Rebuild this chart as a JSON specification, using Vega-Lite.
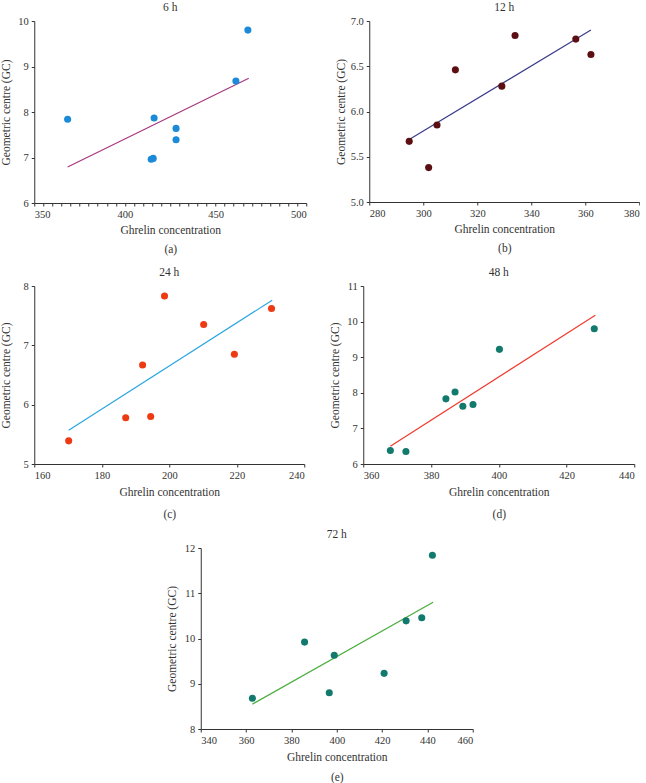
{
  "$schema": "https://vega.github.io/schema/vega-lite/v6.json",
  "padding": {"left": 0, "top": 1, "right": 0, "bottom": 0},
  "background": "white",
  "center": true,
  "spacing": 8,
  "datasets": {
    "a_pts": [{"x": 368.4, "y": 7.84}, {"x": 416.1, "y": 7.87}, {"x": 414.5, "y": 6.96}, {"x": 415.6, "y": 6.98}, {"x": 428.2, "y": 7.64}, {"x": 428.2, "y": 7.39}, {"x": 461.2, "y": 8.68}, {"x": 467.8, "y": 9.8}],
    "a_fit": [{"x": 368.4, "y": 6.79}, {"x": 468.3, "y": 8.74}],
    "b_pts": [{"x": 294.8, "y": 5.67}, {"x": 302.0, "y": 5.38}, {"x": 305.1, "y": 5.85}, {"x": 311.9, "y": 6.46}, {"x": 329.1, "y": 6.28}, {"x": 334.0, "y": 6.84}, {"x": 356.5, "y": 6.8}, {"x": 362.1, "y": 6.63}],
    "b_fit": [{"x": 294.8, "y": 5.69}, {"x": 362.1, "y": 6.9}],
    "c_pts": [{"x": 170.2, "y": 5.39}, {"x": 187.1, "y": 5.78}, {"x": 192.1, "y": 6.67}, {"x": 194.5, "y": 5.8}, {"x": 198.6, "y": 7.83}, {"x": 210.2, "y": 7.35}, {"x": 219.3, "y": 6.85}, {"x": 230.3, "y": 7.62}],
    "c_fit": [{"x": 170.2, "y": 5.57}, {"x": 230.5, "y": 7.76}],
    "d_pts": [{"x": 368.0, "y": 6.38}, {"x": 372.6, "y": 6.35}, {"x": 384.4, "y": 7.83}, {"x": 387.1, "y": 8.02}, {"x": 389.4, "y": 7.62}, {"x": 392.4, "y": 7.67}, {"x": 400.2, "y": 9.22}, {"x": 428.2, "y": 9.8}],
    "d_fit": [{"x": 368.0, "y": 6.5}, {"x": 428.5, "y": 10.18}],
    "e_pts": [{"x": 362.8, "y": 8.68}, {"x": 385.8, "y": 9.92}, {"x": 396.7, "y": 8.8}, {"x": 398.9, "y": 9.63}, {"x": 420.9, "y": 9.23}, {"x": 430.6, "y": 10.39}, {"x": 437.5, "y": 10.46}, {"x": 442.2, "y": 11.84}],
    "e_fit": [{"x": 362.8, "y": 8.55}, {"x": 442.5, "y": 10.8}]
  },
  "vconcat": [
    {
      "spacing": 11,
      "vconcat": [
        {
          "hconcat": [
            {
              "title": "6 h",
              "width": 272, "height": 182,
              "encoding": {
                "x": {"field": "x", "type": "quantitative", "scale": {"domain": [350, 500], "nice": false, "zero": false},
                      "axis": {"title": ["Ghrelin concentration", "(a)"], "titlePadding": 5, "titleLineHeight": 19, "values": [350,355,360,365,370,375,380,385,390,395,400,405,410,415,420,425,430,435,440,445,450,455,460,465,470,475,480,485,490,495,500], "labelExpr": "datum.value % 50 === 0 ? datum.label : ''", "labelOverlap": false}},
                "y": {"field": "y", "type": "quantitative", "scale": {"domain": [6, 10], "nice": false, "zero": false},
                      "axis": {"title": "Geometric centre (GC)", "values": [6,7,8,9,10], "format": "d"}}
              },
              "layer": [
                {"data": {"name": "a_fit"}, "mark": {"type": "line", "color": "#a8377f", "strokeWidth": 1.2}},
                {"data": {"name": "a_pts"}, "mark": {"type": "point", "color": "#1b8ad8"}}
              ]
            },
            {
              "title": "12 h",
              "width": 270, "height": 181,
              "encoding": {
                "x": {"field": "x", "type": "quantitative", "scale": {"domain": [280, 380], "nice": false, "zero": false},
                      "axis": {"title": ["Ghrelin concentration", "(b)"], "titlePadding": 5, "titleLineHeight": 19, "values": [280,300,320,340,360,380]}},
                "y": {"field": "y", "type": "quantitative", "scale": {"domain": [5, 7], "nice": false, "zero": false},
                      "axis": {"title": "Geometric centre (GC)", "values": [5,5.5,6,6.5,7], "format": ".1f"}}
              },
              "layer": [
                {"data": {"name": "b_fit"}, "mark": {"type": "line", "color": "#3b3b8c", "strokeWidth": 1.2}},
                {"data": {"name": "b_pts"}, "mark": {"type": "point", "color": "#5c0f12"}}
              ]
            }
          ],
          "spacing": 28
        },
        {
          "hconcat": [
            {
              "title": "24 h",
              "width": 270, "height": 178,
              "encoding": {
                "x": {"field": "x", "type": "quantitative", "scale": {"domain": [160, 240], "nice": false, "zero": false},
                      "axis": {"title": ["Ghrelin concentration", "(c)"], "titlePadding": 6, "titleLineHeight": 22, "values": [160,180,200,220,240]}},
                "y": {"field": "y", "type": "quantitative", "scale": {"domain": [5, 8], "nice": false, "zero": false},
                      "axis": {"title": "Geometric centre (GC)", "values": [5,6,7,8], "format": "d"}}
              },
              "layer": [
                {"data": {"name": "c_fit"}, "mark": {"type": "line", "color": "#2aa5e0", "strokeWidth": 1.2}},
                {"data": {"name": "c_pts"}, "mark": {"type": "point", "color": "#ee3a12"}}
              ]
            },
            {
              "title": "48 h",
              "width": 271, "height": 178,
              "encoding": {
                "x": {"field": "x", "type": "quantitative", "scale": {"domain": [360, 440], "nice": false, "zero": false},
                      "axis": {"title": ["Ghrelin concentration", "(d)"], "titlePadding": 6, "titleLineHeight": 22, "values": [360,380,400,420,440]}},
                "y": {"field": "y", "type": "quantitative", "scale": {"domain": [6, 11], "nice": false, "zero": false},
                      "axis": {"title": "Geometric centre (GC)", "values": [6,7,8,9,10,11], "format": "d"}}
              },
              "layer": [
                {"data": {"name": "d_fit"}, "mark": {"type": "line", "color": "#ef3b2f", "strokeWidth": 1.2}},
                {"data": {"name": "d_pts"}, "mark": {"type": "point", "color": "#127a6c"}}
              ]
            }
          ],
          "spacing": 24
        }
      ]
    },
    {
      "title": "72 h",
      "width": 272, "height": 181,
      "encoding": {
        "x": {"field": "x", "type": "quantitative", "scale": {"domain": [340, 460], "nice": false, "zero": false},
              "axis": {"title": ["Ghrelin concentration", "(e)"], "titlePadding": 6, "titleLineHeight": 20, "values": [340,360,380,400,420,440,460]}},
        "y": {"field": "y", "type": "quantitative", "scale": {"domain": [8, 12], "nice": false, "zero": false},
              "axis": {"title": "Geometric centre (GC)", "values": [8,9,10,11,12], "format": "d"}}
      },
      "layer": [
        {"data": {"name": "e_fit"}, "mark": {"type": "line", "color": "#48ad3c", "strokeWidth": 1.2}},
        {"data": {"name": "e_pts"}, "mark": {"type": "point", "color": "#127a6c"}}
      ]
    }
  ],
  "config": {
    "view": {"stroke": null},
    "font": "Liberation Serif",
    "axis": {"grid": false, "domainColor": "#333333", "tickColor": "#333333", "labelColor": "#333333", "titleColor": "#333333",
             "labelFont": "Liberation Serif", "titleFont": "Liberation Serif", "labelFontSize": 10.5, "titleFontSize": 11.5,
             "titleFontWeight": "normal", "tickSize": 3, "domainWidth": 1, "tickWidth": 1},
    "axisX": {"labelPadding": 3},
    "axisY": {"labelPadding": 3, "minExtent": 21, "maxExtent": 21, "titlePadding": 2},
    "title": {"fontSize": 11.5, "fontWeight": "normal", "font": "Liberation Serif", "color": "#333333", "offset": 3},
    "point": {"filled": true, "size": 50, "opacity": 1}
  }
}
